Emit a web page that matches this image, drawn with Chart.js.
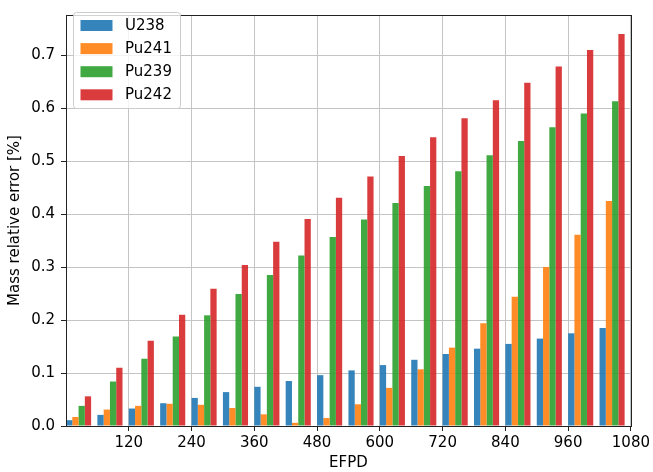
<!DOCTYPE html>
<html>
<head>
<meta charset="utf-8">
<script src="https://cdn.jsdelivr.net/npm/chart.js@4.4.1/dist/chart.umd.min.js"></script>
<style>
  html, body { margin: 0; padding: 0; background: #fff; }
</style>
</head>
<body>
<canvas id="chart" width="653" height="472"></canvas>
<script>
// start of each group of bars (EFPD)
const efpd = [0, 60, 120, 180, 240, 300, 360, 420, 480, 540, 600, 660, 720, 780, 840, 900, 960, 1020];
const u238  = [0.011, 0.021, 0.033, 0.043, 0.053, 0.064, 0.074, 0.085, 0.096, 0.105, 0.115, 0.125, 0.136, 0.146, 0.155, 0.165, 0.175, 0.185];
const pu241 = [0.017, 0.031, 0.038, 0.042, 0.040, 0.034, 0.022, 0.006, 0.015, 0.041, 0.072, 0.107, 0.148, 0.194, 0.244, 0.300, 0.361, 0.425];
const pu239 = [0.038, 0.084, 0.127, 0.169, 0.209, 0.249, 0.285, 0.322, 0.357, 0.390, 0.421, 0.453, 0.481, 0.511, 0.538, 0.564, 0.590, 0.613];
const pu242 = [0.056, 0.110, 0.161, 0.210, 0.259, 0.304, 0.348, 0.391, 0.431, 0.471, 0.510, 0.545, 0.581, 0.615, 0.648, 0.679, 0.710, 0.740];
const xTicks = [120, 240, 360, 480, 600, 720, 840, 960, 1080];
const yTicks = [0.0, 0.1, 0.2, 0.3, 0.4, 0.5, 0.6, 0.7];

const GROUP = 48; // 4 bars of 12 EFPD each, starting at the group position
const FONT = "DejaVu Sans";
const SIZE = 15;

const series = [
  { label: "U238",  values: u238,  color: "rgba(31, 119, 180, 0.9)" },
  { label: "Pu241", values: pu241, color: "rgba(255, 127, 14, 0.9)" },
  { label: "Pu239", values: pu239, color: "rgba(44, 160, 44, 0.9)" },
  { label: "Pu242", values: pu242, color: "rgba(214, 39, 40, 0.9)" },
];

// frame on all four sides, like matplotlib spines
const frame = {
  id: "frame",
  afterDatasetsDraw(chart) {
    const { ctx, chartArea: a } = chart;
    ctx.save();
    ctx.strokeStyle = "#222";
    ctx.lineWidth = 1;
    ctx.strokeRect(Math.round(a.left) + 0.5, Math.round(a.top) + 0.5,
                   Math.round(a.right - a.left), Math.round(a.bottom - a.top));
    ctx.restore();
  }
};

// legend box in the upper left corner of the plot
const innerLegend = {
  id: "innerLegend",
  afterDraw(chart) {
    const { ctx } = chart;
    const x = 73.5, y = 12.5, w = 107, h = 96, r = 3;
    ctx.save();
    ctx.beginPath();
    ctx.roundRect(x, y, w, h, r);
    ctx.fillStyle = "rgba(255,255,255,0.8)";
    ctx.fill();
    ctx.strokeStyle = "#cccccc";
    ctx.lineWidth = 1;
    ctx.stroke();
    ctx.font = SIZE + "px '" + FONT + "'";
    ctx.textBaseline = "middle";
    chart.data.datasets.forEach((ds, i) => {
      const cy = 25.5 + i * 23.1;
      ctx.fillStyle = ds.backgroundColor;
      ctx.fillRect(80.5, cy - 5.5, 32, 11);
      ctx.fillStyle = "#000";
      ctx.fillText(ds.label, 125, cy + 0.5);
    });
    ctx.restore();
  }
};

new Chart(document.getElementById("chart"), {
  type: "bar",
  data: {
    datasets: series.map(s => ({
      label: s.label,
      data: efpd.map((e, i) => ({ x: e + GROUP / 2, y: s.values[i] })),
      backgroundColor: s.color,
      borderWidth: 0,
      categoryPercentage: 0.8,
      barPercentage: 1.0,
    }))
  },
  plugins: [frame, innerLegend],
  options: {
    responsive: false,
    animation: false,
    devicePixelRatio: 1,
    layout: { padding: { left: 0, right: 21, top: 5, bottom: 0 } },
    plugins: { legend: { display: false }, tooltip: { enabled: false } },
    scales: {
      x: {
        type: "linear",
        min: 0,
        max: 1080,
        offset: false,
        afterBuildTicks: s => { s.ticks = xTicks.map(v => ({ value: v })); },
        afterFit: s => { s.height = 46; },
        ticks: {
          color: "#000",
          font: { family: FONT, size: SIZE },
          padding: 3,
          maxRotation: 0,
          autoSkip: false,
          callback: v => String(v),
        },
        grid: { offset: false, color: "#c4c4c4", lineWidth: 1, tickColor: "#222", tickLength: 5 },
        border: { color: "#222", width: 1 },
        title: {
          display: true, text: "EFPD", color: "#000",
          font: { family: FONT, size: SIZE }, padding: { top: 0, bottom: 0 }
        }
      },
      y: {
        min: 0,
        max: 0.776,
        afterBuildTicks: s => { s.ticks = yTicks.map(v => ({ value: v })); },
        afterFit: s => { s.width = 66; },
        ticks: {
          color: "#000",
          font: { family: FONT, size: SIZE },
          padding: 6,
          callback: v => v.toFixed(1),
        },
        grid: { color: "#c4c4c4", lineWidth: 1, tickColor: "#222", tickLength: 5 },
        border: { color: "#222", width: 1 },
        title: {
          display: true, text: "Mass relative error [%]", color: "#000",
          font: { family: FONT, size: SIZE }, padding: { top: 6, bottom: 0 }
        }
      }
    }
  }
});
</script>
</body>
</html>
